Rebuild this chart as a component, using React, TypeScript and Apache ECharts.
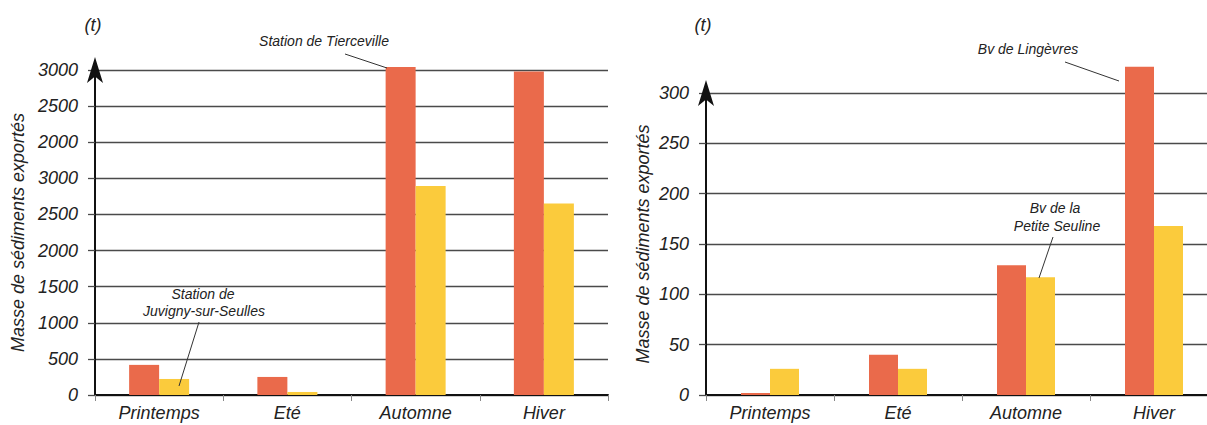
import React, { useEffect, useRef } from "react";
import * as echarts from "echarts";

const seasons = ["Printemps", "Eté", "Automne", "Hiver"];

// Left chart (axis units as drawn on the picture)
const tiercevilleValues = [417, 250, 4540, 4480];
const juvignyValues = [222, 42, 2893, 2653];
const leftTickLabels = ["0", "500", "1000", "1500", "2000", "2500", "3000", "2000", "2500", "3000"];

// Right chart
const lingevresValues = [2, 40, 129, 326];
const petiteSeulineValues = [26, 26, 117, 168];

const ORANGE = "#EA6A4B";
const YELLOW = "#FBCB3C";
const FONT = "Liberation Sans, Arial, sans-serif";
const GRID_COLOR = "#4a4a4a";

export default function App() {
  const ref = useRef<HTMLDivElement>(null);
  useEffect(() => {
    if (!ref.current) return;
    const chart = echarts.init(ref.current, null, { renderer: "svg" });
    const labelStyle = { fontFamily: FONT, fontSize: 18, fontStyle: "italic", color: "#222" };
    const xAxisBase = (gridIndex: number) => ({
      type: "category",
      gridIndex,
      data: seasons,
      boundaryGap: true,
      axisLine: { show: true, lineStyle: { color: "#111", width: 2 } },
      axisTick: { show: true, length: 6, lineStyle: { color: "#888", width: 1 } },
      axisLabel: { ...labelStyle, margin: 9 },
      splitLine: { show: false },
    });
    const yAxisBase = (gridIndex: number) => ({
      type: "value",
      gridIndex,
      min: 0,
      name: "Masse de sédiments exportés",
      nameLocation: "middle",
      nameRotate: 90,
      nameTextStyle: { fontFamily: FONT, fontSize: 18, fontStyle: "italic", color: "#222" },
      axisLine: {
        show: true,
        lineStyle: { color: "#111", width: 2 },
        symbol: ["none", "arrow"],
        symbolSize: [12, 26],
        symbolOffset: [0, 13],
      },
      axisTick: { show: true, length: 7, lineStyle: { color: GRID_COLOR, width: 1.3 } },
      splitLine: { show: true, lineStyle: { color: GRID_COLOR, width: 1.3 } },
    });
    const annot = (text: string, x: number, y: number) => ({
      type: "text",
      x,
      y,
      style: {
        text,
        fontFamily: FONT,
        fontSize: 14,
        fontStyle: "italic",
        fill: "#222",
        align: "center",
        verticalAlign: "middle",
      },
    });
    const leader = (x1: number, y1: number, x2: number, y2: number) => ({
      type: "line",
      shape: { x1, y1, x2, y2 },
      style: { stroke: "#333", lineWidth: 1 },
      z: 10,
    });
    chart.setOption({
      animation: false,
      backgroundColor: "#fff",
      grid: [
        { left: 95, top: 70, width: 513, height: 325, outerBoundsMode: "none", containLabel: false },
        { left: 706, top: 93, width: 512, height: 302, outerBoundsMode: "none", containLabel: false },
      ],
      xAxis: [xAxisBase(0), xAxisBase(1)],
      yAxis: [
        {
          ...yAxisBase(0),
          max: 4500,
          interval: 500,
          nameGap: 68,
          axisLabel: {
            ...labelStyle,
            margin: 17,
            formatter: (v: number) => leftTickLabels[Math.round(v / 500)] ?? "",
          },
        },
        {
          ...yAxisBase(1),
          max: 300,
          interval: 50,
          nameGap: 54,
          axisLabel: { ...labelStyle, margin: 17 },
        },
      ],
      series: [
        {
          name: "Station de Tierceville",
          type: "bar",
          xAxisIndex: 0,
          yAxisIndex: 0,
          data: tiercevilleValues,
          barWidth: 30,
          barGap: "0%",
          clip: false,
          itemStyle: { color: ORANGE },
        },
        {
          name: "Station de Juvigny-sur-Seulles",
          type: "bar",
          xAxisIndex: 0,
          yAxisIndex: 0,
          data: juvignyValues,
          barWidth: 30,
          barGap: "0%",
          clip: false,
          itemStyle: { color: YELLOW },
        },
        {
          name: "Bv de Lingèvres",
          type: "bar",
          xAxisIndex: 1,
          yAxisIndex: 1,
          data: lingevresValues,
          barWidth: 29,
          barGap: "0%",
          clip: false,
          itemStyle: { color: ORANGE },
        },
        {
          name: "Bv de la Petite Seuline",
          type: "bar",
          xAxisIndex: 1,
          yAxisIndex: 1,
          data: petiteSeulineValues,
          barWidth: 29,
          barGap: "0%",
          clip: false,
          itemStyle: { color: YELLOW },
        },
      ],
      graphic: [
        {
          type: "text",
          x: 93,
          y: 25,
          style: { text: "(t)", fontFamily: FONT, fontSize: 18, fontStyle: "italic", fill: "#222", align: "center", verticalAlign: "middle" },
        },
        {
          type: "text",
          x: 703,
          y: 25,
          style: { text: "(t)", fontFamily: FONT, fontSize: 18, fontStyle: "italic", fill: "#222", align: "center", verticalAlign: "middle" },
        },
        annot("Station de Tierceville", 324, 41),
        leader(345, 54, 387, 68),
        annot("Station de", 203, 294),
        annot("Juvigny-sur-Seulles", 204, 311),
        leader(199, 322, 179, 386),
        annot("Bv de Lingèvres", 1028, 49),
        leader(1065, 62, 1119, 81),
        annot("Bv de la", 1055, 208),
        annot("Petite Seuline", 1057, 226),
        leader(1053, 237, 1039, 278),
      ],
    });
    return () => chart.dispose();
  }, []);
  return (
    <div
      ref={ref}
      style={{ position: "absolute", left: 0, top: 0, width: 1207, height: 425, background: "#fff" }}
    />
  );
}
